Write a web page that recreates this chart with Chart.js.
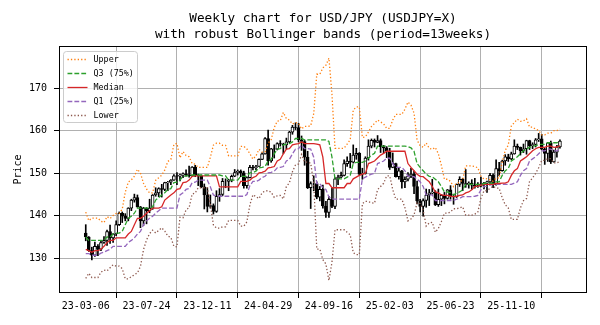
<!DOCTYPE html>
<html>
<head>
<meta charset="utf-8">
<script src="https://cdn.jsdelivr.net/npm/chart.js@4.4.1/dist/chart.umd.min.js"></script>
<style>
  html, body { margin: 0; padding: 0; background: #ffffff; }
  #wrap { width: 600px; height: 325px; }
</style>
</head>
<body>
<div id="wrap"><canvas id="chart" width="600" height="325"></canvas></div>
<script>
// Weekly USD/JPY candles, 2023-03-06 .. 2026-03-02 (one entry per week)
const opens = [
  135.9,135.0,131.8,130.7,132.8,132.1,133.7,134.2,136.3,134.8,
  135.7,137.9,140.6,139.9,139.4,141.8,143.7,144.3,142.1,138.8,
  141.8,141.2,141.8,144.9,145.4,146.4,146.2,147.8,147.9,148.4,
  149.4,149.3,149.6,149.9,149.6,149.4,151.5,149.6,149.4,146.8,
  144.9,142.2,142.4,141.0,144.6,145.0,148.1,148.1,148.4,149.3,
  150.2,150.5,150.1,147.1,149.0,151.4,151.3,151.6,153.3,154.6,
  158.2,152.9,155.8,155.7,157.0,156.9,156.7,157.4,159.7,160.9,
  160.8,157.9,157.5,153.8,146.6,147.6,147.6,144.4,146.2,142.3,
  140.8,143.9,142.2,148.7,149.1,149.5,152.3,152.9,152.6,154.3,
  154.7,149.8,150.0,153.6,156.4,157.8,157.3,157.7,156.3,156.0,
  155.2,151.4,152.3,149.2,150.6,148.0,148.6,149.3,149.8,146.9,
  143.5,142.2,143.6,144.9,145.4,145.6,142.6,143.9,144.8,144.1,
  146.1,144.6,144.5,147.4,148.6,147.6,147.4,147.7,147.2,146.9,
  147.0,147.4,147.7,148.0,149.5,147.4,151.1,150.6,152.9,153.9,
  153.4,154.6,156.4,156.1,155.3,155.8,157.7,156.5,156.8,157.9,
  158.1,155.7,154.7,157.2,152.7,155.0,156.2
];
const highs = [
  137.9,135.1,132.6,133.8,133.2,134.0,135.1,136.6,137.8,135.8,
  138.8,140.9,140.9,140.5,141.9,143.9,145.1,144.9,142.2,142.0,
  141.9,143.9,145.0,146.6,146.6,147.4,147.9,148.1,148.5,149.7,
  150.2,149.8,150.1,150.8,151.7,151.6,151.9,149.8,149.6,147.5,
  146.6,144.9,142.8,145.9,146.4,148.8,148.7,148.6,149.6,150.9,
  150.8,150.8,150.5,149.2,151.9,151.9,151.9,153.4,154.8,158.4,
  160.2,155.9,156.7,157.2,157.7,157.1,158.3,159.9,161.3,161.9,
  161.8,158.8,157.8,155.2,148.0,149.4,148.0,146.9,147.2,143.4,
  144.5,146.5,149.0,149.6,150.3,153.2,153.9,154.7,156.7,155.9,
  154.9,151.2,153.9,157.9,158.1,158.1,158.9,158.1,156.6,156.3,
  155.9,154.8,152.4,151.2,150.7,149.2,150.2,151.2,150.5,148.2,
  143.9,144.0,146.3,146.2,148.6,145.9,146.3,145.0,145.5,146.2,
  147.1,145.1,147.5,149.2,148.8,150.9,148.0,148.5,148.8,147.8,
  149.1,147.9,148.2,150.0,149.9,153.2,152.6,153.1,154.4,154.5,
  155.0,157.9,156.9,156.2,156.9,157.8,157.8,157.2,158.2,159.4,
  159.2,155.9,157.3,157.6,155.5,156.6,157.9
];
const lows = [
  134.1,131.6,129.6,130.4,130.6,131.8,133.5,133.0,133.5,133.7,
  135.3,137.7,138.4,138.8,138.8,141.2,143.2,142.0,137.2,137.7,
  138.1,140.7,141.5,144.6,144.5,144.4,145.9,145.9,147.3,148.3,
  147.3,148.2,149.0,149.3,149.1,149.3,149.2,147.1,146.6,141.6,
  140.9,141.8,140.4,140.8,143.4,144.7,146.6,145.9,148.0,149.2,
  149.6,149.2,146.5,146.5,148.9,150.8,150.8,151.6,153.2,154.5,
  151.9,152.6,153.6,155.5,156.4,154.6,155.7,157.2,159.2,160.3,
  157.4,155.4,151.9,146.4,141.7,145.9,144.0,143.5,141.8,139.6,
  139.6,141.9,141.7,147.3,149.0,149.4,151.6,151.3,152.4,153.3,
  149.5,148.6,149.8,153.1,156.0,156.2,157.2,154.9,154.8,153.7,
  150.9,151.3,149.1,148.6,146.5,146.6,148.2,149.0,145.2,142.8,
  140.9,139.9,142.0,142.4,145.1,142.4,142.2,142.4,142.8,143.9,
  143.9,142.7,144.3,146.9,145.9,146.7,146.5,146.2,146.5,146.7,
  146.8,146.3,145.5,147.6,146.6,147.2,149.4,150.5,151.9,152.8,
  153.2,154.5,155.6,154.3,154.9,154.5,155.6,155.8,156.2,157.5,
  155.6,152.1,152.8,152.3,152.6,153.8,155.9
];
const closes = [
  135.0,131.8,130.7,132.8,132.1,133.7,134.2,136.3,134.8,135.7,
  137.9,140.6,139.9,139.4,141.8,143.7,144.3,142.1,138.8,141.8,
  141.2,141.8,144.9,145.4,146.4,146.2,147.8,147.9,148.4,149.4,
  149.3,149.6,149.9,149.6,149.4,151.5,149.6,149.4,146.8,144.9,
  142.2,142.4,141.0,144.6,145.0,148.1,148.1,148.4,149.3,150.2,
  150.5,150.1,147.1,149.0,151.4,151.3,151.6,153.3,154.6,158.2,
  152.9,155.8,155.7,157.0,156.9,156.7,157.4,159.7,160.9,160.8,
  157.9,157.5,153.8,146.6,147.6,147.6,144.4,146.2,142.3,140.8,
  143.9,142.2,148.7,149.1,149.5,152.3,152.9,152.6,154.3,154.7,
  149.8,150.0,153.6,156.4,157.8,157.3,157.7,156.3,156.0,155.2,
  151.4,152.3,149.2,150.6,148.0,148.6,149.3,149.8,146.9,143.5,
  142.2,143.6,144.9,145.4,145.6,142.6,143.9,144.8,144.1,146.1,
  144.6,144.5,147.4,148.6,147.6,147.4,147.7,147.2,146.9,147.0,
  147.4,147.7,148.0,149.5,147.4,151.1,150.6,152.9,153.9,153.4,
  154.6,156.4,156.1,155.3,155.8,157.7,156.5,156.8,157.9,158.1,
  155.7,154.7,157.2,152.7,155.0,156.2,157.6
];

// Robust Bollinger bands (13-week window)
const upper = [
  140.85,138.85,139.45,139.45,139.45,138.7,138.4,139.8,139.35,140.05,
  140.55,140.55,141.55,145.55,147.95,148.45,149.3,150.95,150.05,147.65,
  146.3,145.4,145.4,148.35,148.95,149.55,150.8,152.8,153.3,156.8,
  157.05,153.65,155.15,154.2,153.9,152.3,152.15,151.4,151.4,151.4,
  151.4,153.8,156.65,157.1,157.1,156.6,156.6,154.1,154.1,154.1,
  154.1,156.35,156.35,155.75,154.6,153.35,154.1,155.65,155.0,155.05,
  157.1,157.95,160.75,162.3,162.4,164.35,162.9,162.55,161.6,161.95,
  161.8,160.45,161.05,161.05,161.2,164.05,173.35,173.35,174.85,175.45,
  177.15,168.65,155.9,155.9,155.9,155.9,156.9,157.9,164.9,165.65,
  165.65,158.45,158.6,159.75,161.05,161.75,162.55,162.1,161.65,160.6,
  160.6,162.55,163.9,163.9,163.9,165.1,166.8,166.05,164.2,157.85,
  156.5,156.15,157.15,155.9,155.65,156.1,154.6,151.85,148.6,148.6,
  148.1,146.85,147.65,147.85,148.5,151.75,151.75,151.75,151.6,151.3,
  149.35,148.65,148.75,148.45,148.15,148.9,148.9,152.65,155.4,156.65,
  161.15,161.95,162.75,162.25,162.35,162.85,160.9,160.9,160.4,160.1,
  159.05,159.05,159.45,159.45,160.05,160.05,160.45
];
const q3 = [
  135.0,134.2,134.2,134.2,134.2,134.2,134.2,135.0,135.0,135.7,
  135.9,135.9,136.3,137.9,139.4,139.9,140.6,141.8,141.8,141.8,
  141.8,141.8,142.1,143.7,144.3,144.9,145.4,146.2,146.4,147.8,
  147.9,148.4,149.3,149.4,149.4,149.6,149.6,149.6,149.6,149.6,
  149.6,149.6,149.6,149.6,149.6,149.4,149.4,148.4,148.4,148.4,
  148.4,149.3,149.3,149.3,150.1,150.2,150.5,151.3,151.4,151.6,
  152.9,153.3,154.6,155.7,155.8,156.7,156.9,157.0,157.4,158.2,
  158.2,158.2,157.9,157.9,157.9,157.9,157.9,157.9,157.9,157.9,
  157.5,153.8,148.7,148.7,148.7,148.7,149.1,149.5,152.3,152.6,
  152.6,152.6,152.9,153.6,154.3,154.7,156.4,156.4,156.4,156.4,
  156.4,156.4,156.4,156.4,156.4,156.4,156.3,156.0,155.2,152.3,
  151.4,150.6,149.8,149.3,149.2,148.6,148.0,146.9,145.6,145.6,
  145.4,144.9,145.4,145.6,146.1,147.4,147.4,147.4,147.4,147.4,
  147.4,147.6,147.7,147.7,147.7,148.0,148.0,149.5,150.6,151.1,
  152.9,153.4,153.9,154.6,155.3,155.8,156.1,156.4,156.5,156.8,
  156.8,156.8,157.2,157.2,157.2,157.2,157.6
];
const median = [
  132.1,131.8,131.4,131.8,131.8,132.1,132.8,133.7,134.2,134.2,
  134.8,134.8,134.8,134.8,135.7,136.3,137.9,139.4,139.4,139.9,
  140.6,141.2,141.8,141.8,141.8,142.1,143.7,144.3,144.9,145.4,
  146.2,146.4,147.8,147.9,148.4,149.3,149.4,149.4,149.4,149.4,
  149.4,149.4,149.4,149.4,146.8,146.8,146.8,146.8,146.8,146.8,
  146.8,148.1,148.1,148.1,148.4,149.0,149.3,150.1,150.2,150.5,
  151.3,151.4,151.6,152.9,153.3,154.6,155.7,155.8,156.7,156.9,
  157.0,157.4,157.0,157.0,157.0,157.0,156.9,156.7,153.8,147.6,
  147.6,146.6,146.6,146.6,146.6,146.6,147.6,147.6,148.7,149.1,
  149.5,149.8,150.0,152.3,152.6,152.9,153.6,154.3,154.7,155.2,
  155.2,155.2,155.2,155.2,155.2,155.2,152.3,151.4,150.6,149.8,
  149.3,149.2,148.6,148.0,146.9,145.6,145.4,144.9,144.8,144.8,
  144.6,144.5,144.6,144.8,144.9,145.4,145.6,146.1,146.9,147.0,
  147.2,147.4,147.4,147.4,147.4,147.6,147.6,147.7,147.7,148.0,
  149.5,150.6,151.1,152.9,153.4,153.9,154.6,155.3,155.8,156.1,
  156.1,156.1,156.4,156.4,156.1,156.2,156.5
];
const q1 = [
  131.1,131.1,130.7,130.7,130.7,131.2,131.4,131.8,132.1,132.8,
  132.8,132.8,132.8,132.8,133.7,134.2,134.8,135.7,136.3,137.9,
  138.8,139.4,139.9,140.6,141.2,141.8,141.8,141.8,141.8,141.8,
  141.8,144.9,145.4,146.2,146.4,147.8,147.9,148.4,148.4,148.4,
  148.4,146.8,144.9,144.6,144.6,144.6,144.6,144.6,144.6,144.6,
  144.6,144.6,144.6,145.0,147.1,148.1,148.1,148.4,149.0,149.3,
  150.1,150.2,150.5,151.3,151.4,151.6,152.9,153.3,154.6,155.7,
  155.8,156.7,155.8,155.8,155.7,153.8,147.6,147.6,146.6,146.2,
  144.4,143.9,143.9,143.9,143.9,143.9,143.9,143.9,143.9,143.9,
  143.9,148.7,149.1,149.5,149.8,150.0,152.3,152.6,152.9,153.6,
  153.6,152.3,151.4,151.4,151.4,150.6,149.3,149.3,149.2,148.6,
  148.0,146.9,144.9,144.9,144.9,143.6,143.6,143.6,143.6,143.6,
  143.6,143.6,143.9,144.1,144.5,144.5,144.5,144.5,144.6,144.8,
  146.1,146.9,147.0,147.2,147.4,147.4,147.4,147.4,147.4,147.4,
  147.4,147.7,148.0,149.5,150.6,151.1,152.9,153.4,153.9,154.6,
  155.3,155.3,155.7,155.7,155.3,155.3,155.7
];
const lower = [
  125.25,126.45,125.45,125.45,125.45,126.7,127.2,127.0,127.75,128.45,
  128.15,128.15,127.55,125.15,125.15,125.65,126.1,126.55,128.05,132.05,
  134.3,135.8,136.6,135.95,136.55,137.15,136.4,135.2,134.9,132.8,
  132.65,139.65,139.55,141.4,141.9,145.1,145.35,146.6,146.6,146.6,
  146.6,142.6,137.85,137.1,137.1,137.4,137.4,138.9,138.9,138.9,
  138.9,137.55,137.55,138.55,142.6,144.95,144.5,144.05,145.4,145.85,
  145.9,145.55,144.35,144.7,144.8,143.95,146.9,147.75,150.4,151.95,
  152.2,154.45,152.65,152.65,152.4,147.65,132.15,132.15,129.65,128.65,
  124.75,129.05,136.7,136.7,136.7,136.7,136.1,135.5,131.3,130.85,
  130.85,142.85,143.4,143.35,143.05,142.95,146.15,146.9,147.65,149.4,
  149.4,146.15,143.9,143.9,143.9,141.9,138.8,139.25,140.2,143.05,
  142.9,141.35,137.55,138.3,138.45,136.1,137.0,138.65,140.6,140.6,
  140.9,141.65,141.65,141.85,142.1,140.15,140.15,140.15,140.4,140.9,
  144.15,145.85,145.95,146.45,146.95,146.5,146.5,144.25,142.6,141.85,
  139.15,139.15,139.15,141.85,143.55,144.05,148.1,148.9,150.0,151.3,
  153.05,153.05,153.45,153.45,152.45,152.45,152.85
];

// Axis ticks: a date label every 20 weeks, price grid every 10 yen
const xTickLabels = ['23-03-06', '23-07-24', '23-12-11', '24-04-29', '24-09-16', '25-02-03', '25-06-23', '25-11-10', ''];
const xTickStep = 20;
const yTicks = [130, 140, 150, 160, 170];

const FONT = '"DejaVu Sans Mono", monospace';
const GRID = '#b0b0b0';

const pts = arr => arr.map((v, i) => ({ x: i, y: v }));
const bodies = closes.map((c, i) => ({ x: i, y: [opens[i], c] }));
const wicks = closes.map((c, i) => ({ x: i, y: [lows[i], highs[i]] }));
const bodyFill = closes.map((c, i) => (c >= opens[i] ? '#ffffff' : '#000000'));

const band = (label, data, color, dash) => ({
  type: 'line', label, data: pts(data), borderColor: color, borderWidth: 1.3,
  borderDash: dash, pointRadius: 0, pointHoverRadius: 0, tension: 0, fill: false, order: 0
});
const DOT = [1.3, 2.1];
const DASH = [4.8, 2.1];

// Plot frame plus an in-axes legend for the band lines
const frameLegend = {
  id: 'frameLegend',
  afterDraw(chart) {
    const { ctx, chartArea: a } = chart;
    ctx.save();
    ctx.setLineDash([]);
    ctx.strokeStyle = '#000';
    ctx.lineWidth = 1;
    const L = Math.round(a.left) + 0.5, T = Math.round(a.top) + 0.5;
    const R = Math.round(a.right) - 0.5, B = Math.round(a.bottom) - 0.5;
    ctx.strokeRect(L, T, R - L, B - T);

    const items = chart.data.datasets.filter(d => d.type === 'line');
    const x0 = Math.round(a.left) + 4.5, y0 = Math.round(a.top) + 5.5;
    const rowH = 14, w = 74, h = rowH * items.length + 1, r = 3;
    ctx.beginPath();
    ctx.moveTo(x0 + r, y0);
    ctx.lineTo(x0 + w - r, y0); ctx.arcTo(x0 + w, y0, x0 + w, y0 + r, r);
    ctx.lineTo(x0 + w, y0 + h - r); ctx.arcTo(x0 + w, y0 + h, x0 + w - r, y0 + h, r);
    ctx.lineTo(x0 + r, y0 + h); ctx.arcTo(x0, y0 + h, x0, y0 + h - r, r);
    ctx.lineTo(x0, y0 + r); ctx.arcTo(x0, y0, x0 + r, y0, r);
    ctx.closePath();
    ctx.fillStyle = 'rgba(255,255,255,0.8)';
    ctx.fill();
    ctx.strokeStyle = '#cccccc';
    ctx.stroke();

    ctx.font = '8.4px ' + FONT;
    ctx.textBaseline = 'middle';
    ctx.textAlign = 'left';
    items.forEach((d, k) => {
      const y = y0 + 8 + k * rowH;
      ctx.beginPath();
      ctx.setLineDash(d.borderDash || []);
      ctx.strokeStyle = d.borderColor;
      ctx.lineWidth = d.borderWidth;
      ctx.moveTo(x0 + 4, y);
      ctx.lineTo(x0 + 24, y);
      ctx.stroke();
      ctx.setLineDash([]);
      ctx.fillStyle = '#000';
      ctx.fillText(d.label, x0 + 30, y);
    });
    ctx.restore();
  }
};

new Chart(document.getElementById('chart'), {
  type: 'bar',
  data: {
    datasets: [
      band('Upper', upper, '#ff7f0e', DOT),
      band('Q3 (75%)', q3, '#2ca02c', DASH),
      band('Median', median, '#d62728', []),
      band('Q1 (25%)', q1, '#9467bd', DASH),
      band('Lower', lower, '#8c564b', DOT),
      { type: 'bar', label: 'body', data: bodies, backgroundColor: bodyFill, borderColor: '#000000',
        borderWidth: 1, borderSkipped: false, barThickness: 3, grouped: false, order: 1 },
      { type: 'bar', label: 'wick', data: wicks, backgroundColor: '#000000', borderWidth: 0,
        barThickness: 1, grouped: false, order: 2 }
    ]
  },
  options: {
    responsive: false,
    animation: false,
    devicePixelRatio: 1,
    layout: { padding: { left: 0, right: 13, top: 0, bottom: 0 } },
    plugins: {
      legend: { display: false },
      tooltip: { enabled: false },
      title: {
        display: true,
        fullSize: false,
        text: ['Weekly chart for USD/JPY (USDJPY=X)', 'with robust Bollinger bands (period=13weeks)'],
        color: '#000',
        font: { family: FONT, size: 12.7, weight: 'normal', lineHeight: 1.26 },
        padding: { top: 11, bottom: 3 }
      }
    },
    scales: {
      x: {
        type: 'linear',
        min: -8.8,
        max: 164.9,
        offset: false,
        afterBuildTicks: s => { s.ticks = xTickLabels.map((_, k) => ({ value: k * xTickStep })); },
        afterFit: s => { s.height = 32; },
        ticks: {
          autoSkip: false, maxRotation: 0, color: '#000', padding: 2,
          font: { family: FONT, size: 10 },
          callback: (v, k) => xTickLabels[k] ?? ''
        },
        grid: { color: GRID, lineWidth: 1, tickColor: '#000', tickLength: 5, drawTicks: true },
        border: { display: false }
      },
      y: {
        type: 'linear',
        min: 121.8,
        max: 180,
        afterBuildTicks: s => { s.ticks = yTicks.map(v => ({ value: v })); },
        afterFit: s => { s.width = 59; },
        ticks: { color: '#000', padding: 7, font: { family: FONT, size: 10 } },
        grid: { color: GRID, lineWidth: 1, tickColor: '#000', tickLength: 5, drawTicks: true },
        border: { display: false },
        title: { display: true, text: 'Price', color: '#000', font: { family: FONT, size: 10 }, padding: { top: 12, bottom: 0 } }
      }
    }
  },
  plugins: [frameLegend]
});
</script>
</body>
</html>
